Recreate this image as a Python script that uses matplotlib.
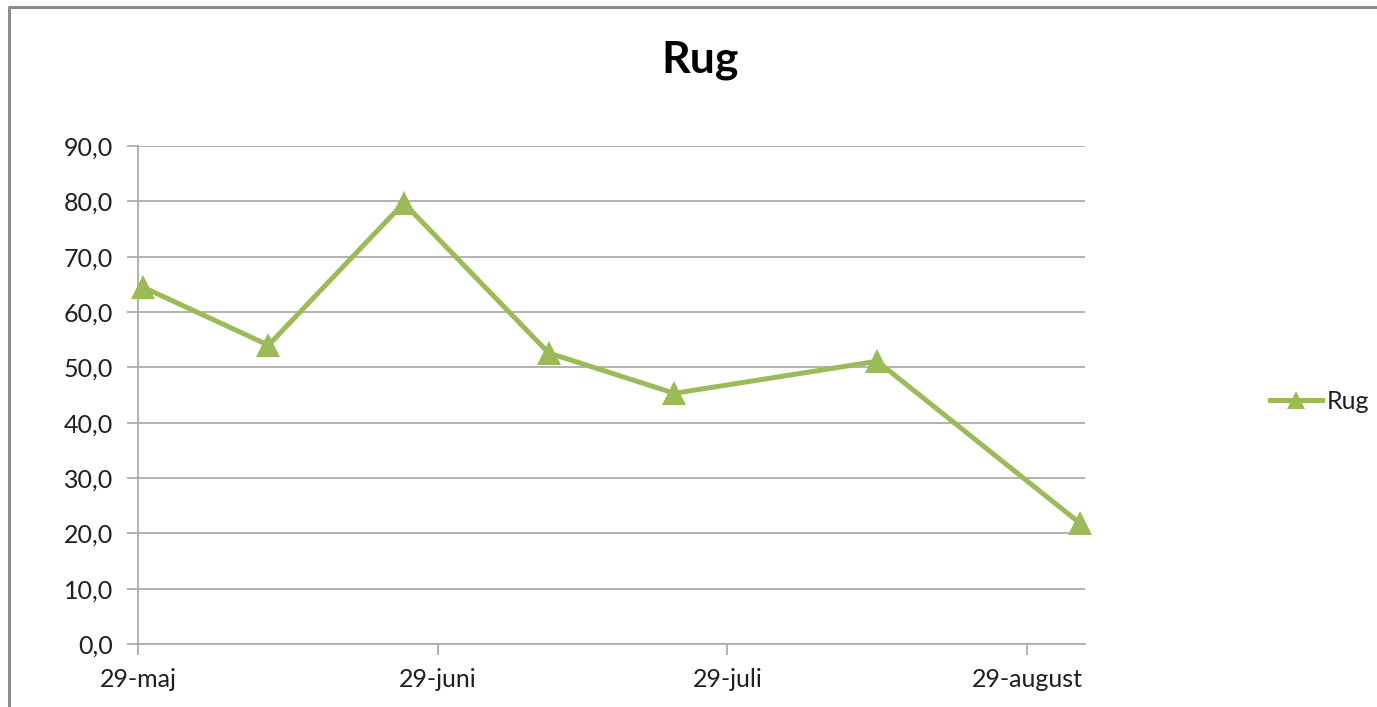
import datetime as dt
import matplotlib
matplotlib.use("Agg")
import matplotlib.pyplot as plt
from matplotlib.lines import Line2D

# data
dates = ["2013-05-29", "2013-06-11", "2013-06-25", "2013-07-10",
         "2013-07-23", "2013-08-13", "2013-09-03"]
rug = [64.5, 54.0, 79.7, 52.6, 45.3, 51.1, 21.8]
tick_dates = ["2013-05-29", "2013-06-29", "2013-07-29", "2013-08-29"]
tick_labels = ["29-maj", "29-juni", "29-juli", "29-august"]
y_ticks = [0, 10, 20, 30, 40, 50, 60, 70, 80, 90]

green = "#9bbb59"
grid_col = "#a6a6a6"
txt_col = "#1f1f1f"

plt.rcParams["font.family"] = ["Lato", "DejaVu Sans"]

# excel puts each day's point in the middle of the day slot
x = [dt.datetime.fromisoformat(d) + dt.timedelta(hours=12) for d in dates]
xt = [dt.datetime.fromisoformat(d) for d in tick_dates]

fig = plt.figure(figsize=(13.77, 7.07), dpi=100)
ax = fig.add_axes([138 / 1377, 1 - 644 / 707, (1085 - 138) / 1377, (644 - 146) / 707])

ax.plot(x, rug, color=green, lw=3.6, marker="^", markersize=17,
        markeredgewidth=0, solid_joinstyle="miter", zorder=3, clip_on=False)

ax.set_xlim(dt.datetime(2013, 5, 29), dt.datetime(2013, 9, 4))
ax.set_ylim(0, 90)
ax.set_yticks(y_ticks)
ax.set_yticklabels([f"{v:.1f}".replace(".", ",") for v in y_ticks])
ax.set_xticks(xt)
ax.set_xticklabels(tick_labels)

ax.grid(axis="y", color=grid_col, lw=1.2)
ax.set_axisbelow(True)
for s in ["top", "right"]:
    ax.spines[s].set_visible(False)
ax.spines["left"].set_color(grid_col)
ax.spines["bottom"].set_color(grid_col)
ax.spines["left"].set_linewidth(1.2)
ax.spines["bottom"].set_linewidth(1.2)
ax.tick_params(axis="y", length=8, width=1.2, color=grid_col, labelsize=18,
               labelcolor=txt_col, pad=10)
ax.tick_params(axis="x", length=8, width=1.2, color=grid_col, labelsize=18,
               labelcolor=txt_col, pad=9)

fig.text(700 / 1377, 1 - 60 / 707, "Rug", ha="center", va="center",
         fontsize=32, fontweight="bold", color="black")

h = Line2D([], [], color=green, lw=3.6, marker="^", markersize=13, markeredgewidth=0)
fig.legend([h], ["Rug"], loc="center left", bbox_to_anchor=(1247 / 1377, 1 - 401 / 707),
           frameon=False, fontsize=18, handlelength=2.1, handletextpad=0.2,
           labelcolor=txt_col)

# grey outline of the chart area
border = Line2D([8.5 / 1377, 8.5 / 1377, 1.0], [0.0, 1 - 7 / 707, 1 - 7 / 707],
                transform=fig.transFigure, color="#8c8c8c", lw=2.2)
fig.add_artist(border)

fig.savefig("out.png", dpi=100, facecolor="white")
